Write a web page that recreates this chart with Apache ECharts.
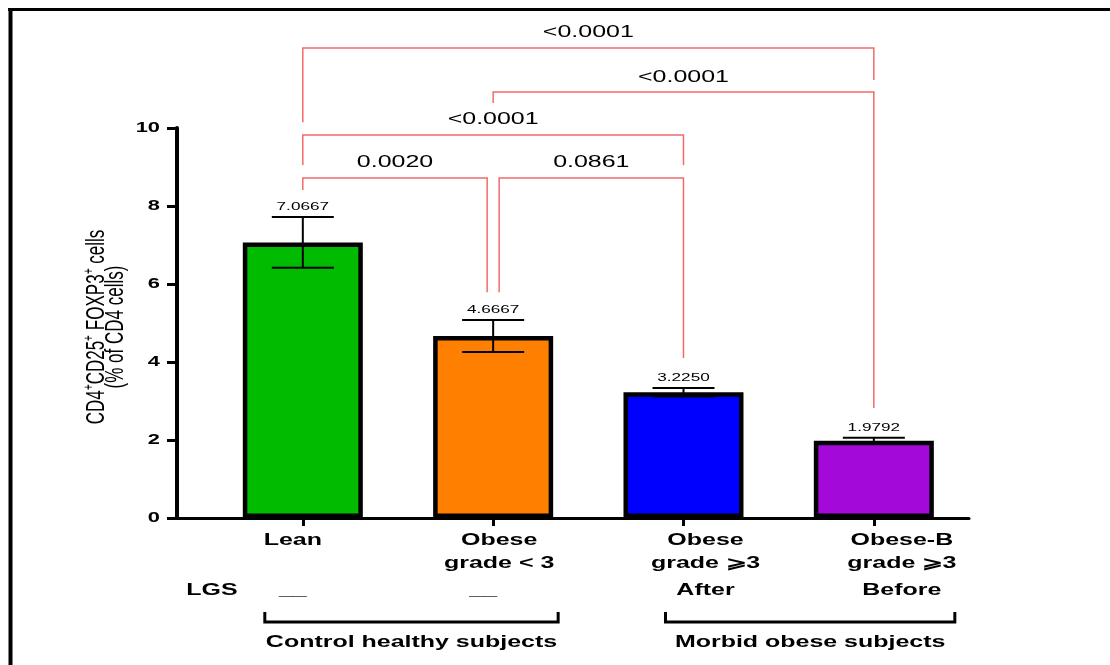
<!DOCTYPE html>
<html>
<head>
<meta charset="utf-8">
<script src="https://cdn.jsdelivr.net/npm/echarts@6/dist/echarts.min.js"></script>
<style>
  html, body { margin: 0; padding: 0; background: #fff; }
  #chart { width: 1110px; height: 665px; }
</style>
</head>
<body>
<div id="chart"></div>
<script>
// ---- data ----
const categories = ['Lean', 'Obese\ngrade < 3', 'Obese\ngrade \u2A7E3', 'Obese-B\ngrade \u2A7E3'];
const lgsLabels = ['__', '__', 'After', 'Before'];
const means = [7.0667, 4.6667, 3.2250, 1.9792];
const sem = [0.65, 0.41, 0.11, 0.08];
const yTicks = [0, 2, 4, 6, 8, 10];
// pairwise comparisons: [first group, second group, p-value]
const comparisons = [
  [0, 3, '<0.0001'],
  [1, 3, '<0.0001'],
  [0, 2, '<0.0001'],
  [0, 1, '0.0020'],
  [1, 2, '0.0861']
];
// subject groups: [label, first category, last category]
const groups = [
  ['Control healthy subjects', 0, 1],
  ['Morbid obese subjects', 2, 3]
];

// ---- styling / layout ----
const barColors = ['#00bb00', '#ff8000', '#0000ff', '#a30ad9'];
const bracketColor = '#f26a6a';
const FONT = '"Liberation Sans", Arial, Helvetica, sans-serif';
const STRETCH = 1.56;         // wide lettering
const X_MIN = -0.661, X_MAX = 3.5;
// bracket heights (value units) and horizontal nudges (px)
const bracketLayout = [
  { bar: 12.05, legs: [10.15, 11.23], dx: [0, 0] },
  { bar: 10.92, legs: [10.64, 2.82], dx: [0, 0] },
  { bar: 9.82,  legs: [9.05, 9.05],  dx: [0, 0] },
  { bar: 8.72,  legs: [8.41, 5.79],  dx: [0, -6] },
  { bar: 8.72,  legs: [5.79, 4.10],  dx: [6, 0] }
];
const labelShift = [-10, 6, 22, 28];
const groupSpan = [[-38, 65], [-18, 81]];

function wideText(x, y, text, size, weight, align) {
  return {
    type: 'text', x: x, y: y, scaleX: STRETCH,
    style: {
      text: text, fontSize: size, fontWeight: weight || 'normal', fontFamily: FONT,
      fill: '#000', align: align || 'center', verticalAlign: 'middle'
    }
  };
}

const chart = echarts.init(document.getElementById('chart'));

const option = {
  animation: false,
  backgroundColor: '#fff',
  grid: { left: 177, right: 141, top: 128, bottom: 147, containLabel: false, outerBoundsMode: 'none' },
  xAxis: {
    type: 'value', min: X_MIN, max: X_MAX,
    axisLine: { show: true, onZero: false, lineStyle: { color: '#000', width: 3 } },
    axisTick: { show: true, customValues: [0, 1, 2, 3], length: 8, lineStyle: { color: '#000', width: 3 } },
    axisLabel: { show: false },
    splitLine: { show: false }
  },
  yAxis: {
    type: 'value', min: 0, max: 10, interval: 2,
    axisLine: { show: true, onZero: false, lineStyle: { color: '#000', width: 4 } },
    axisTick: { show: true, length: 10, lineStyle: { color: '#000', width: 3 } },
    axisLabel: { show: false },
    splitLine: { show: false }
  },
  graphic: [
    { type: 'line', shape: { x1: 10.5, y1: 8, x2: 10.5, y2: 665 }, style: { stroke: '#000', lineWidth: 4 } },
    { type: 'line', shape: { x1: 8, y1: 9.5, x2: 1110, y2: 9.5 }, style: { stroke: '#000', lineWidth: 3 } },
    {
      type: 'text', x: 106, y: 327, rotation: Math.PI / 2, scaleY: STRETCH,
      style: {
        text: 'CD4\u207ACD25\u207A FOXP3\u207A cells\n(% of CD4 cells)',
        fontSize: 17, lineHeight: 12, fontFamily: FONT, fill: '#000',
        align: 'center', verticalAlign: 'middle'
      }
    }
  ],
  series: [
    {
      // group means
      type: 'bar',
      barWidth: 120,
      data: means.map((v, i) => ({ value: [i, v], itemStyle: { color: barColors[i] } })),
      itemStyle: { borderColor: '#000', borderWidth: 4.5 },
      z: 2
    },
    {
      // SEM error bars with mean value labels
      type: 'custom',
      clip: false,
      z: 5,
      data: means.map((m, i) => [i, m, sem[i]]),
      renderItem(params, api) {
        const i = api.value(0), m = api.value(1), e = api.value(2);
        const top = api.coord([i, m + e]);
        const bot = api.coord([i, m - e]);
        const cap = 31;
        const line = (x1, y1, x2, y2) => ({ type: 'line', shape: { x1, y1, x2, y2 }, style: { stroke: '#000', lineWidth: 2 } });
        return {
          type: 'group',
          children: [
            line(top[0], top[1], bot[0], bot[1]),
            line(top[0] - cap, top[1], top[0] + cap, top[1]),
            line(bot[0] - cap, bot[1], bot[0] + cap, bot[1]),
            wideText(top[0], top[1] - 10, m.toFixed(4), 11)
          ]
        };
      }
    },
    {
      // significance brackets
      type: 'custom',
      clip: false,
      z: 6,
      data: comparisons.map(c => [c[0], c[1]]),
      renderItem(params, api) {
        const k = params.dataIndex;
        const c = comparisons[k], L = bracketLayout[k];
        const pa = api.coord([c[0], L.bar]);
        const pb = api.coord([c[1], L.bar]);
        const xa = pa[0] + L.dx[0], xb = pb[0] + L.dx[1];
        const ya = api.coord([c[0], L.legs[0]])[1];
        const yb = api.coord([c[1], L.legs[1]])[1];
        return {
          type: 'group',
          children: [
            {
              type: 'polyline',
              shape: { points: [[xa, ya], [xa, pa[1]], [xb, pa[1]], [xb, yb]] },
              style: { stroke: bracketColor, lineWidth: 1.5, fill: null }
            },
            wideText((xa + xb) / 2, pa[1] - 15, c[2], 16)
          ]
        };
      }
    },
    {
      // category names and LGS row under the axis
      type: 'custom',
      clip: false,
      z: 6,
      data: categories.map((c, i) => [i, 0]),
      renderItem(params, api) {
        const i = params.dataIndex;
        const p = api.coord([i, 0]);
        const cx = p[0] + labelShift[i];
        const lines = categories[i].split('\n');
        const children = lines.map((t, j) => wideText(cx, p[1] + 23 + 23 * j, t, 16, 'bold'));
        const lgsX = lgsLabels[i] === '__' ? p[0] - 10 : cx;
        children.push(wideText(lgsX, p[1] + 73, lgsLabels[i], 16, 'bold'));
        if (i === 0) {
          const o = api.coord([X_MIN, 0]);
          children.push(wideText(o[0] + 35, p[1] + 73, 'LGS', 16, 'bold'));
        }
        return { type: 'group', children };
      }
    },
    {
      // subject group brackets
      type: 'custom',
      clip: false,
      z: 6,
      data: groups.map(g => [g[1], g[2]]),
      renderItem(params, api) {
        const k = params.dataIndex;
        const g = groups[k];
        const a = api.coord([g[1], 0]), b = api.coord([g[2], 0]);
        const x1 = a[0] + groupSpan[k][0], x2 = b[0] + groupSpan[k][1];
        const y = a[1] + 104;
        return {
          type: 'group',
          children: [
            {
              type: 'polyline',
              shape: { points: [[x1, y - 10], [x1, y], [x2, y], [x2, y - 10]] },
              style: { stroke: '#000', lineWidth: 3, fill: null }
            },
            wideText((x1 + x2) / 2, a[1] + 125, g[0], 16, 'bold')
          ]
        };
      }
    },
    {
      // y tick labels
      type: 'custom',
      clip: false,
      z: 6,
      data: yTicks.map(v => [X_MIN, v]),
      renderItem(params, api) {
        const v = api.value(1);
        const p = api.coord([X_MIN, v]);
        return wideText(p[0] - 17, p[1], String(v), 14, 'bold', 'right');
      }
    }
  ]
};

chart.setOption(option);
</script>
</body>
</html>
